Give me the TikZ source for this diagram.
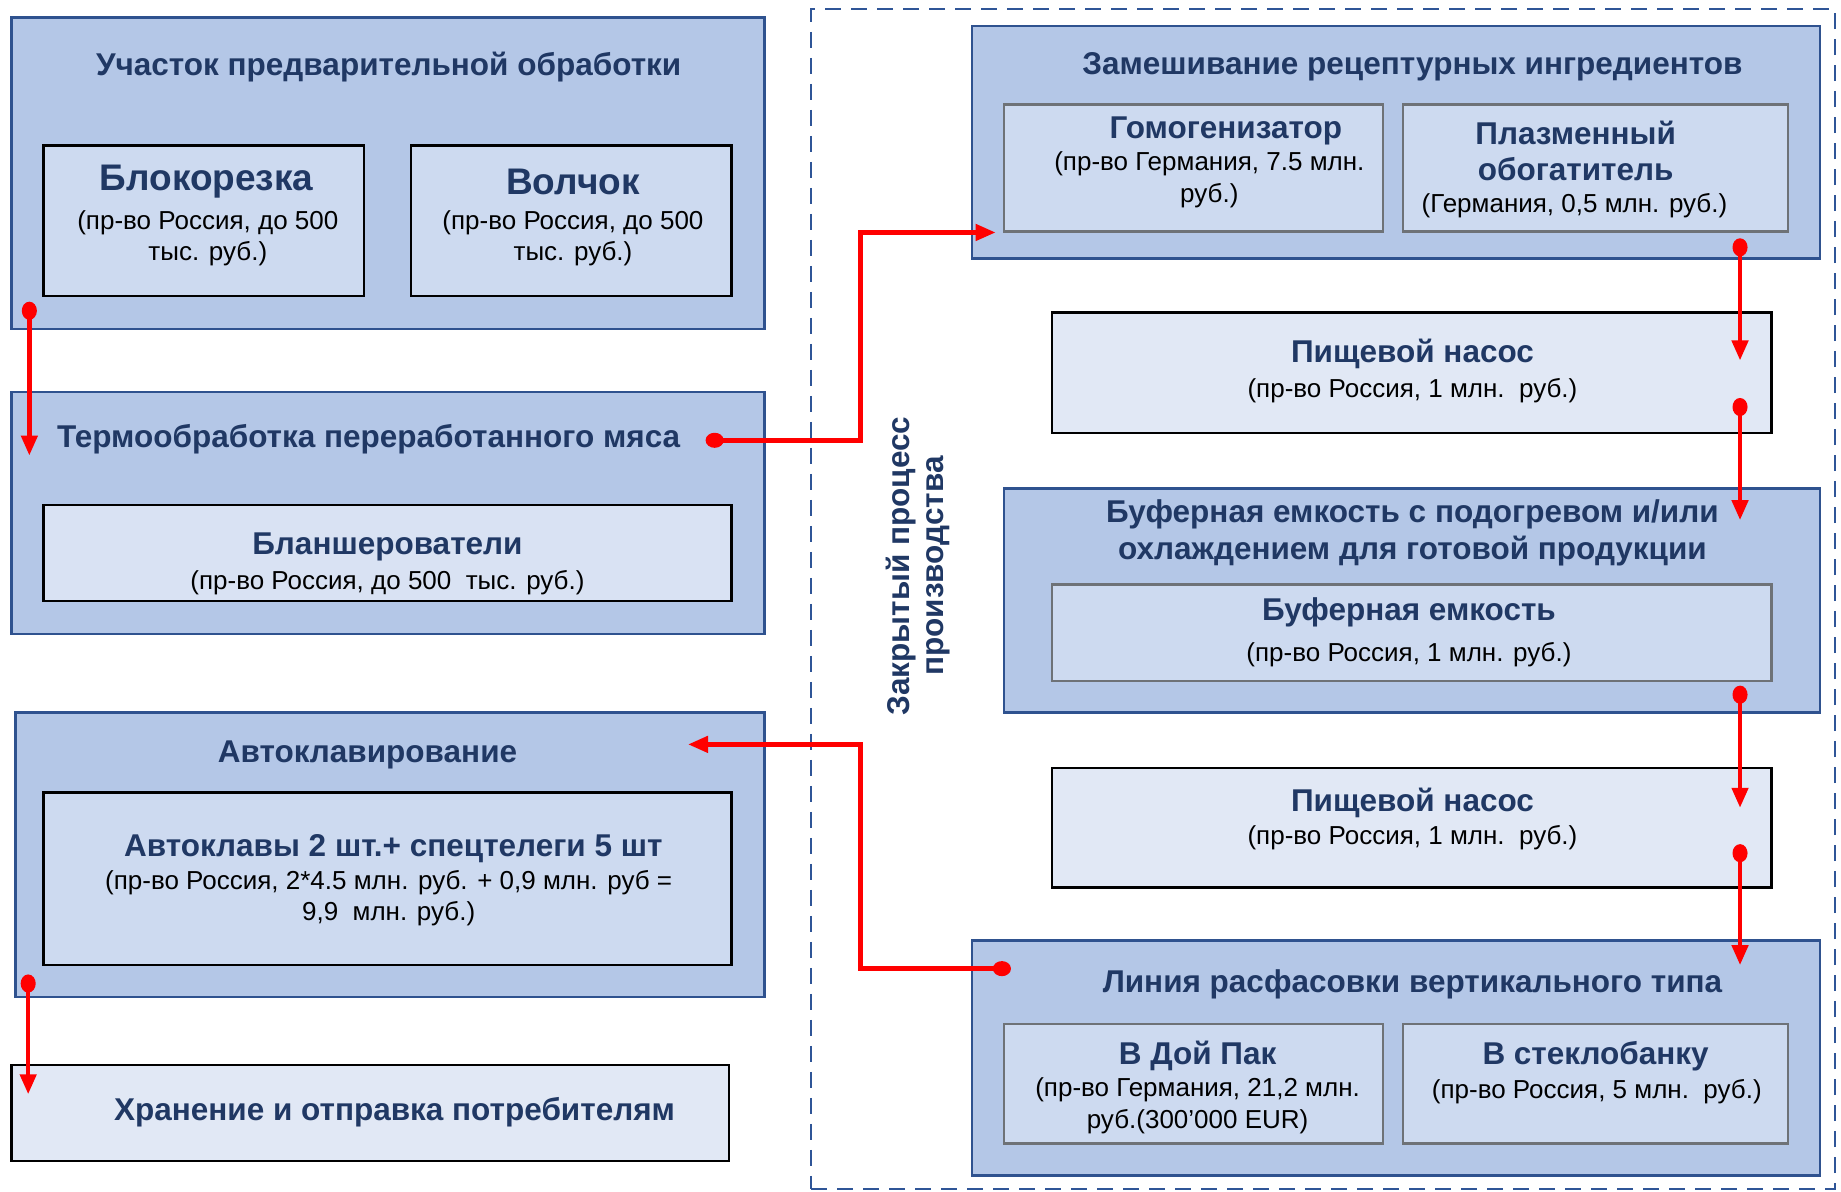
\documentclass[tikz,border=0pt]{standalone}
\usepackage{fontspec}
\setmainfont{Liberation Sans}
\usetikzlibrary{arrows.meta,fit}
\definecolor{outerfill}{HTML}{B4C7E7}
\definecolor{outerdraw}{HTML}{2F528F}
\definecolor{innerfill}{HTML}{CDDAF0}
\definecolor{lightfill}{HTML}{E1E8F5}
\definecolor{blanchfill}{HTML}{D9E2F3}
\definecolor{navy}{HTML}{203864}
\definecolor{dashblue}{HTML}{2F5597}
\definecolor{greydraw}{HTML}{6E7277}
\begin{document}
\begin{tikzpicture}[x=1.1741pt,y=-1.1741pt,
 outerbox/.style={draw=outerdraw,fill=outerfill,line width=2.5pt,inner sep=0pt},
 innerbox/.style={draw=black,fill=innerfill,line width=2.5pt,inner sep=0pt},
 innergrey/.style={draw=greydraw,fill=innerfill,line width=2.5pt,inner sep=0pt},
 plainbox/.style={draw=black,fill=lightfill,line width=2.5pt,inner sep=0pt},
 dashbox/.style={draw=dashblue,line width=2pt,dash pattern=on 16pt off 10pt,inner sep=0pt},
 ttl/.style={text=navy,font=\fontsize{31.5}{36.4}\selectfont\bfseries,align=center,inner sep=0pt,yshift=-2pt},
 big/.style={text=navy,font=\fontsize{37}{40}\selectfont\bfseries,inner sep=0pt,yshift=-2pt},
 sub/.style={text=black,font=\fontsize{26}{31.7}\selectfont,align=center,inner sep=0pt,yshift=-1pt},
 vtext/.style={text=navy,font=\fontsize{31.5}{34}\selectfont\bfseries,align=center,inner sep=0pt,rotate=90},
 flow/.style={draw=red,line width=4.5pt,{Circle[length=18pt,width=15pt]}-{Triangle[length=20pt,width=16pt]}}
]
\useasboundingbox[fill=white] (0,0) rectangle (1568,1015);

% left column
\node[outerbox,fit={(10,15)(651,280)}] (pre) {};
\node[ttl] (preT) at (331,55) {Участок предварительной обработки};
\node[innerbox,fit={(37,124)(310,252)}] (blk) {};
\node[big] (blkT) at (176,153) {Блокорезка};
\node[sub] (blkS) at (177,202) {(пр-во Россия, до 500\\тыс. руб.)};
\node[innerbox,fit={(350,124)(623,252)}] (vol) {};
\node[big] (volT) at (488,153) {Волчок};
\node[sub] (volS) at (488,202) {(пр-во Россия, до 500\\тыс. руб.)};

\node[outerbox,fit={(10,334)(651,540)}] (term) {};
\node[ttl] (termT) at (314,372) {Термообработка переработанного мяса};
\node[innerbox,fill=blanchfill,fit={(37,430)(623,512)}] (bla) {};
\node[ttl] (blaT) at (330,464) {Бланшерователи};
\node[sub] (blaS) at (330,495) {(пр-во Россия, до 500\ \ тыс. руб.)};

\node[outerbox,fit={(13,607)(651,849)}] (auto) {};
\node[ttl] (autoT) at (313,641) {Автоклавирование};
\node[innerbox,fit={(37,675)(623,822)}] (akl) {};
\node[ttl] (aklT) at (335,721) {Автоклавы 2 шт.+ спецтелеги 5 шт};
\node[sub] (aklS) at (331,764) {(пр-во Россия, 2*4.5 млн. руб. + 0,9 млн. руб =\\9,9\ \ млн. руб.)};

\node[plainbox,fit={(10,907)(621,989)}] (store) {};
\node[ttl] (storeT) at (336,946) {Хранение и отправка потребителям};

% closed process area
\node[dashbox,fit={(691,8)(1563,1013)}] (closed) {};
\node[vtext] (closedT) at (782,482) {Закрытый процесс\\производства};

\node[outerbox,fit={(828,22)(1550,220)}] (mix) {};
\node[ttl] (mixT) at (1203,55) {Замешивание рецептурных ингредиентов};
\node[innergrey,fit={(855,89)(1178,197)}] (hom) {};
\node[ttl] (homT) at (1044,110) {Гомогенизатор};
\node[sub] (homS) at (1030,152) {(пр-во Германия, 7.5 млн.\\руб.)};
\node[innergrey,fit={(1195,89)(1523,197)}] (pla) {};
\node[ttl] (plaT) at (1342,127) {Плазменный\\обогатитель};
\node[sub] (plaS) at (1341,174) {(Германия, 0,5 млн. руб.)};

\node[plainbox,fit={(896,266)(1509,369)}] (pump1) {};
\node[ttl] (pump1T) at (1203,300) {Пищевой насос};
\node[sub] (pump1S) at (1203,332) {(пр-во Россия, 1 млн.\ \ руб.)};

\node[outerbox,fit={(855,416)(1550,607)}] (buf) {};
\node[ttl] (bufT) at (1203,452) {Буферная емкость с подогревом и/или\\охлаждением для готовой продукции};
\node[innergrey,fit={(896,498)(1509,580)}] (bufi) {};
\node[ttl] (bufiT) at (1200,520) {Буферная емкость};
\node[sub] (bufiS) at (1200,557) {(пр-во Россия, 1 млн. руб.)};

\node[plainbox,fit={(896,654)(1509,756)}] (pump2) {};
\node[ttl] (pump2T) at (1203,682) {Пищевой насос};
\node[sub] (pump2S) at (1203,713) {(пр-во Россия, 1 млн.\ \ руб.)};

\node[outerbox,fit={(828,801)(1550,1001)}] (pack) {};
\node[ttl] (packT) at (1203,837) {Линия расфасовки вертикального типа};
\node[innergrey,fit={(855,872)(1178,974)}] (doy) {};
\node[ttl] (doyT) at (1020,898) {В Дой Пак};
\node[sub] (doyS) at (1020,941) {(пр-во Германия, 21,2 млн.\\руб.(300’000 EUR)};
\node[innergrey,fit={(1195,872)(1523,974)}] (jar) {};
\node[ttl] (jarT) at (1359,898) {В стеклобанку};
\node[sub] (jarS) at (1360,929) {(пр-во Россия, 5 млн.\ \ руб.)};

% connector points
\coordinate (p1) at (25,257);  \coordinate (p1e) at (25,388);
\coordinate (p2) at (601,375); \coordinate (j1) at (733,300); \coordinate (p2e) at (848,198);
\coordinate (p3) at (1482,203); \coordinate (p3e) at (1482,307);
\coordinate (p4) at (1482,339); \coordinate (p4e) at (1482,443);
\coordinate (p5) at (1482,584); \coordinate (p5e) at (1482,688);
\coordinate (p6) at (1482,719); \coordinate (p6e) at (1482,822);
\coordinate (p7) at (861,825); \coordinate (j2) at (733,700); \coordinate (p7e) at (586,634);
\coordinate (p8) at (24,830);  \coordinate (p8e) at (24,932);

\draw[flow] (p1) -- (p1e);
\draw[flow] (p2) -| (j1) |- (p2e);
\draw[flow] (p3) -- (p3e);
\draw[flow] (p4) -- (p4e);
\draw[flow] (p5) -- (p5e);
\draw[flow] (p6) -- (p6e);
\draw[flow] (p7) -| (j2) |- (p7e);
\draw[flow] (p8) -- (p8e);
\end{tikzpicture}
\end{document}
